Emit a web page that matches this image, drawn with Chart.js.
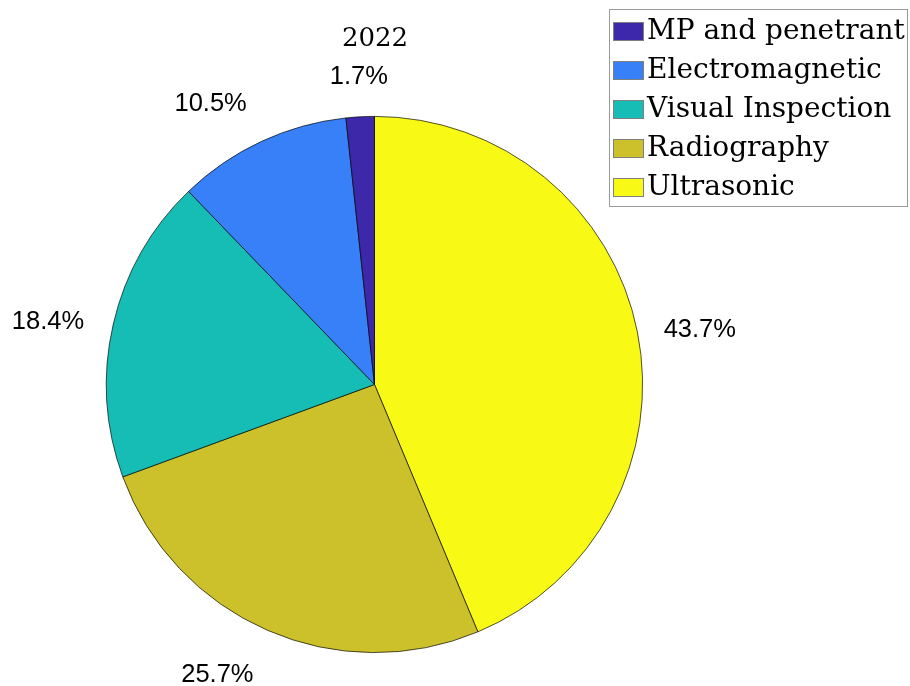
<!DOCTYPE html>
<html>
<head>
<meta charset="utf-8">
<script src="https://cdn.jsdelivr.net/npm/chart.js@4.4.1/dist/chart.umd.min.js"></script>
<style>
  html, body { margin: 0; padding: 0; background: #fff; }
  #wrap { position: relative; width: 910px; height: 686px; }
</style>
</head>
<body>
<div id="wrap"><canvas id="pie"></canvas></div>
<script>
// NDT method shares, listed in legend order
const chartTitle = '2022';
const methods = ['MP and penetrant', 'Electromagnetic', 'Visual Inspection', 'Radiography', 'Ultrasonic'];
const shares = [1.7, 10.5, 18.4, 25.7, 43.7];
const sliceColors = ['#3D28A9', '#3780F8', '#15BDB5', '#CCC12A', '#F8F914'];

// slices are laid out clockwise from 12 o'clock, so the legend order is reversed
const drawLabels = methods.slice().reverse();
const drawValues = shares.slice().reverse();
const drawColors = sliceColors.slice().reverse();

const serifFont = '"DejaVu Serif", "Liberation Serif", serif';
const sansFont = '"Liberation Sans", Arial, sans-serif';

// percentage text just outside the rim, aligned away from the centre
const pctLabels = {
    id: 'pctLabels',
    afterDatasetsDraw(chart) {
        const { ctx } = chart;
        const meta = chart.getDatasetMeta(0);
        ctx.save();
        ctx.font = '25.5px ' + sansFont;
        ctx.fillStyle = '#000';
        ctx.textBaseline = 'alphabetic';
        meta.data.forEach((arc, i) => {
            const mid = (arc.startAngle + arc.endAngle) / 2;
            const c = Math.cos(mid), s = Math.sin(mid);
            let x = arc.x + 1.1 * arc.outerRadius * c;
            let y = arc.y + 1.1 * arc.outerRadius * s;
            if (Math.abs(c) < 0.1) {
                ctx.textAlign = 'center';
            } else if (c > 0) {
                ctx.textAlign = 'left';
            } else {
                ctx.textAlign = 'right';
                x -= 3;
            }
            if (-s > 0.5) y -= 6.5;
            else if (-s < -0.5) y += 27;
            else y += 10.5;
            ctx.fillText(drawValues[i].toFixed(1) + '%', x, y);
        });
        ctx.restore();
    }
};

// title plus boxed legend in the top right corner
const sideText = {
    id: 'sideText',
    afterDraw(chart) {
        const { ctx } = chart;
        ctx.save();
        ctx.fillStyle = '#000';
        ctx.font = '26px ' + serifFont;
        ctx.textAlign = 'center';
        ctx.textBaseline = 'alphabetic';
        ctx.fillText(chartTitle, 375, 46);

        // legend frame
        ctx.fillStyle = '#fff';
        ctx.fillRect(609.5, 9.5, 298, 197);
        ctx.strokeStyle = '#9a9a9a';
        ctx.lineWidth = 1;
        ctx.strokeRect(609.5, 9.5, 298, 197);

        ctx.font = '28px ' + serifFont;
        ctx.textAlign = 'left';
        methods.forEach((name, i) => {
            const top = 22 + i * 39;
            ctx.fillStyle = sliceColors[i];
            ctx.fillRect(613, top, 31, 19);
            ctx.strokeStyle = '#7f7f7f';
            ctx.strokeRect(613.5, top + 0.5, 30, 18);
            ctx.fillStyle = '#000';
            ctx.fillText(name, 647, top + 16.5);
        });
        ctx.restore();
    }
};

new Chart(document.getElementById('pie'), {
    type: 'pie',
    data: {
        labels: drawLabels,
        datasets: [{
            data: drawValues,
            backgroundColor: drawColors,
            borderColor: 'rgba(0,0,0,0.85)',
            borderWidth: 0.8,
            hoverOffset: 0
        }]
    },
    options: {
        responsive: true,
        maintainAspectRatio: false,
        animation: false,
        rotation: 0,
        layout: { padding: { left: 106, right: 267, top: 116, bottom: 33 } },
        plugins: {
            legend: { display: false },
            title: { display: false },
            tooltip: { enabled: false }
        }
    },
    plugins: [pctLabels, sideText]
});
</script>
</body>
</html>
